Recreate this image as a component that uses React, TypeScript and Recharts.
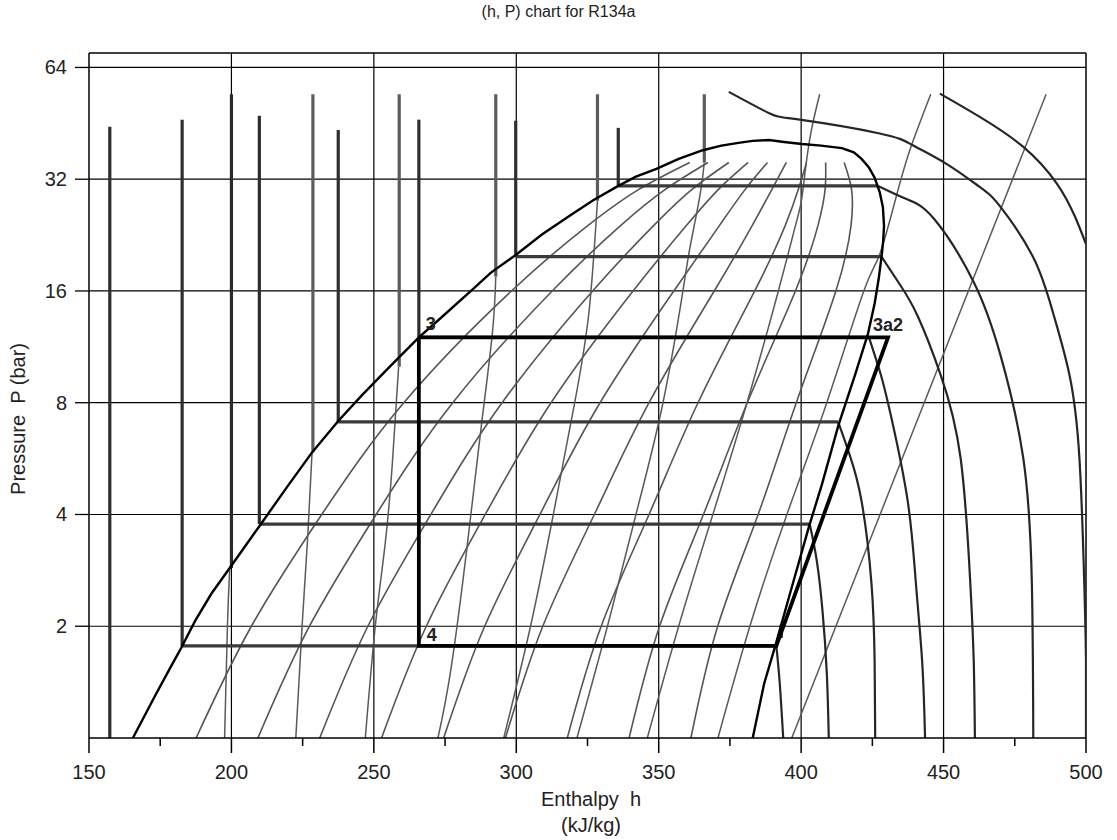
import { LineChart, Line, XAxis, YAxis, ReferenceLine, ReferenceDot } from 'recharts';

type Pt = [number, number]; // [h kJ/kg, P bar]

const H_TICKS = [150, 175, 200, 225, 250, 275, 300, 325, 350, 375, 400, 425, 450, 475, 500];
const P_TICKS = [2, 4, 8, 16, 32, 64];
const H_GRID = [200, 250, 300, 350, 400, 450];
const P_GRID = [2, 4, 8, 16, 32, 64];

// saturation dome: liquid side, round the critical point, down the vapour side
const DOME: Pt[] = [
  [165.4, 1], [173.2, 1.3], [178.6, 1.55], [182.4, 1.75], [187.3, 2.07], [193, 2.45], [199.4, 2.87],
  [209.8, 3.72], [220, 4.8], [228.3, 5.88], [237.5, 7.14], [245.6, 8.35], [255, 9.9], [265.8, 12.0],
  [272.4, 13.3], [284.1, 16], [291, 17.9], [299.8, 20.0], [309, 22.7], [319, 25.6], [327, 28.1],
  [335.8, 30.7], [342, 32.5], [349.2, 34.1], [357, 36.3], [365.5, 38.3], [372, 39.4], [378, 40.1],
  [383, 40.6], [388.7, 40.8], [394, 40.3], [400.3, 39.8], [407, 39.4], [414.3, 38.8], [418.5, 37.8],
  [421.2, 36.3], [423.8, 34.4], [425.8, 32.3], [427.6, 29.5], [428.7, 26.9], [429.1, 24.0],
  [428.8, 21.8], [428.2, 19.7], [427.2, 17.2], [425.8, 14.8], [423.5, 12.3], [418.9, 9.5],
  [413.1, 6.96], [407.3, 4.82], [402.7, 3.7], [395.7, 2.39], [391.1, 1.79], [387, 1.4], [383, 1],
];

// constant quality lines x = 0.1 ... 0.9
const QUALITY_P = [1, 2, 4, 8, 16, 24, 30, 35.5];
const QUALITY_H = [
  [187.6, 207.0, 231.7, 260.5, 298.3, 325.1, 342.9, 360.9],
  [209.3, 227.4, 250.8, 277.7, 312.6, 336.6, 352.2, 367.3],
  [231.0, 247.9, 270.0, 295.0, 326.8, 348.2, 361.6, 374.6],
  [252.7, 268.4, 289.1, 312.2, 341.0, 359.7, 370.9, 381.4],
  [274.5, 288.9, 308.3, 329.4, 355.3, 371.3, 380.3, 388.2],
  [296.2, 309.3, 327.4, 346.6, 369.5, 382.8, 389.7, 394.8],
  [317.9, 329.8, 346.6, 363.8, 383.7, 394.4, 399.0, 401.9],
  [339.6, 350.3, 365.7, 381.1, 398.0, 405.9, 408.4, 408.6],
  [361.3, 370.7, 384.9, 398.3, 412.2, 417.5, 417.7, 415.1],
];

// isentropes, thin part (two-phase / vapour)
const ISENTROPES: Pt[][] = [
  [[197.6, 1], [198.6, 2], [199.4, 2.87]],
  [[222.6, 1], [224.8, 2], [226.8, 3.5], [228.3, 5.88]],
  [[247, 1], [250.5, 2], [254, 3.35], [256.5, 5.5], [258.7, 10.0]],
  [[272.5, 1], [277.1, 1.54], [282.9, 3.36], [287.6, 6.8], [291.6, 12.3], [292.8, 17.5]],
  [[295.6, 1], [305, 2], [313, 4], [320.5, 8], [325.5, 14], [328.5, 28]],
  [[321.3, 1], [332, 2], [342, 4], [351.5, 8], [358.5, 16], [361, 21], [364.5, 29], [366, 35.5]],
  [[346, 1], [357, 2], [369, 4], [381, 8], [392, 16], [398, 24], [400.1, 28], [401.5, 34], [403.5, 43], [406.5, 54.2]],
  [[370.8, 1], [382, 2], [395, 4], [409, 8], [422, 16], [427.5, 20], [433, 28], [438, 38], [445.5, 54.2]],
  [[396.7, 1], [486, 54.2]],
];

// isentropes in the liquid region (thick bars up to the top)
const LIQ_BAR_H = [200, 228.6, 258.9, 292.8, 328.5, 366];
const LIQ_BAR_FROM = [2.87, 5.88, 10.0, 17.5, 28, 35.5];
const LIQ_BAR_TOP = 54.2;

// cycle isobars (= isotherms in the dome) with their liquid-side verticals
const ISOBAR_P = [1.77, 3.77, 7.1, 12.0, 19.8, 30.7];
const ISOBAR_H_LIQ = [182.7, 209.8, 237.5, 265.8, 299.8, 335.8];
const ISOBAR_H_VAP = [391.3, 403.0, 413.0, 423.8, 428.2, 427.0];
const ISOBAR_BAR_TOP = [46.3, 47.4, 43.4, 46.3, 46, 44];
const EXTRA_BAR: Pt[] = [[157.3, 1], [157.3, 44.3]];

// superheated isotherms
const ISOTHERMS: Pt[][] = [
  [[391.3, 1.77], [392.5, 1.4], [393.7, 1]],
  [[403, 3.77], [405.5, 3], [407.5, 2.2], [409, 1.5], [409.7, 1]],
  [[413, 7.1], [417, 5.8], [421.2, 4.35], [424.7, 2.6], [425.8, 1.6], [426, 1]],
  [[423.8, 12], [428, 9.5], [431.6, 7.33], [437.4, 4.35], [440.3, 2.6], [442.5, 1.6], [443.5, 1]],
  [[428.2, 19.8], [435, 16.5], [440.9, 13.7], [449, 9.5], [456, 5.66], [459.4, 2.6], [460.6, 1.6], [461, 1]],
  [[427, 30.7], [437, 28.3], [446.7, 25], [460.6, 16.9], [469.9, 10.8], [478, 5.66], [481, 2.6], [481.5, 1]],
  [[374.6, 55], [389, 48.1], [399.5, 46.3], [427.6, 42.5], [439.2, 39.5], [451, 35.2], [462.7, 30.5],
    [469.9, 27], [481.5, 19.7], [488.4, 14], [494.2, 9.5], [497.7, 5.66], [499.4, 2.6], [500, 1.6], [500, 1]],
  [[448.7, 54.4], [462.7, 47.1], [478, 39.1], [489.7, 31.2], [496, 25.5], [500, 21.4]],
];

// refrigeration cycle 3 -> 4 -> 1 -> 2 -> 3
const CYCLE: Pt[] = [[265.8, 12], [265.8, 1.77], [391.3, 1.77], [430.5, 12], [265.8, 12]];
const MARK_1: Pt[] = [[393, 1.86], [393, 2.02]];

const toData = (pts: Pt[]) => pts.map(([h, P]) => ({ h, P }));

const FONT = '"Liberation Sans", Arial, Helvetica, sans-serif';
const TEXT = '#222';

const XTick = ({ x, y, payload }: any) => {
  const major = payload.value % 50 === 0;
  return (
    <g>
      <line x1={x} x2={x} y1={y} y2={y + (major ? 15 : 8)} stroke="#000" strokeWidth={1.5} />
      {major && (
        <text x={x} y={y + 41} textAnchor="middle" fontSize={20} fill={TEXT} fontFamily={FONT}>
          {payload.value}
        </text>
      )}
    </g>
  );
};

const YTick = ({ x, y, payload }: any) => (
  <g>
    <line x1={x - 14} x2={x} y1={y} y2={y} stroke="#000" strokeWidth={1.3} />
    <text x={x - 22} y={y + 7} textAnchor="end" fontSize={20} fill={TEXT} fontFamily={FONT}>
      {payload.value}
    </text>
  </g>
);

const pointLabel = (text: string, dx: number, dy: number) => (props: any) => (
  <text x={props.cx + dx} y={props.cy + dy} fontSize={18} fontWeight="bold" fill={TEXT} fontFamily={FONT}>
    {text}
  </text>
);

type Series = { key: string; pts: Pt[]; stroke: string; width: number; curve: 'linear' | 'natural' };

export default function App() {
  const series: Series[] = [];

  QUALITY_H.forEach((hs, i) =>
    series.push({ key: `q${i}`, pts: hs.map((h, j) => [h, QUALITY_P[j]] as Pt), stroke: '#555', width: 1.6, curve: 'natural' })
  );
  ISENTROPES.forEach((pts, i) =>
    series.push({ key: `s${i}`, pts, stroke: '#5a5a5a', width: 1.5, curve: 'natural' })
  );
  LIQ_BAR_H.forEach((h, i) =>
    series.push({
      key: `lb${i}`,
      pts: [[h, LIQ_BAR_FROM[i]], [h, LIQ_BAR_TOP]],
      stroke: i === 0 ? '#2a2a2a' : '#5c5c5c',
      width: 3.2,
      curve: 'linear',
    })
  );
  series.push({ key: 'xb', pts: EXTRA_BAR, stroke: '#2e2e2e', width: 3.2, curve: 'linear' });
  ISOBAR_P.forEach((P, i) => {
    series.push({ key: `ib${i}`, pts: [[ISOBAR_H_LIQ[i], P], [ISOBAR_H_LIQ[i], ISOBAR_BAR_TOP[i]]], stroke: '#2e2e2e', width: 3.2, curve: 'linear' });
    series.push({ key: `ip${i}`, pts: [[ISOBAR_H_LIQ[i], P], [ISOBAR_H_VAP[i], P]], stroke: '#3a3a3a', width: 3.2, curve: 'linear' });
  });
  ISOTHERMS.forEach((pts, i) =>
    series.push({ key: `t${i}`, pts, stroke: '#262626', width: 2.2, curve: 'natural' })
  );
  series.push({ key: 'dome', pts: DOME, stroke: '#000', width: 2.4, curve: 'linear' });
  series.push({ key: 'cycle', pts: CYCLE, stroke: '#000', width: 3.8, curve: 'linear' });
  series.push({ key: 'm1', pts: MARK_1, stroke: '#000', width: 3, curve: 'linear' });

  return (
    <div style={{ position: 'absolute', left: 0, top: 0, width: 1117, height: 840, background: '#fff', fontFamily: FONT, color: TEXT }}>
      <div style={{ position: 'absolute', left: 0, top: 3, width: 1117, textAlign: 'center', fontSize: 16, lineHeight: '18px' }}>
        (h, P) chart for R134a
      </div>
      <div
        style={{
          position: 'absolute', left: 18 - 150, top: 419 - 12, width: 300, height: 24, lineHeight: '24px',
          textAlign: 'center', fontSize: 20, transform: 'rotate(-90deg)', whiteSpace: 'pre',
        }}
      >
        {'Pressure  P (bar)'}
      </div>
      <div style={{ position: 'absolute', left: 391, top: 786, width: 400, textAlign: 'center', fontSize: 20, lineHeight: '26px', whiteSpace: 'pre' }}>
        {'Enthalpy  h\n(kJ/kg)'}
      </div>

      <LineChart width={1117} height={840} margin={{ top: 53, right: 31, left: 0, bottom: 42 }}>
        <XAxis
          type="number"
          dataKey="h"
          domain={[150, 500]}
          ticks={H_TICKS}
          interval={0}
          allowDataOverflow
          height={60}
          tickSize={0}
          tickMargin={0}
          tickLine={false}
          tick={<XTick />}
          axisLine={{ stroke: '#000', strokeWidth: 1.5 }}
        />
        <YAxis
          type="number"
          dataKey="P"
          scale="log"
          domain={[1, 70]}
          ticks={P_TICKS}
          interval={0}
          allowDataOverflow
          width={89}
          tickSize={0}
          tickMargin={0}
          tickLine={false}
          tick={<YTick />}
          axisLine={{ stroke: '#000', strokeWidth: 1.5 }}
        />
        {H_GRID.map((h) => (
          <ReferenceLine key={`gx${h}`} x={h} stroke="#000" strokeWidth={1.2} />
        ))}
        {P_GRID.map((p) => (
          <ReferenceLine key={`gy${p}`} y={p} stroke="#000" strokeWidth={1.2} />
        ))}
        <ReferenceLine x={500} stroke="#000" strokeWidth={1.5} />
        <ReferenceLine y={70} stroke="#000" strokeWidth={1.5} />

        {series.map((s) => (
          <Line
            key={s.key}
            data={toData(s.pts)}
            dataKey="P"
            type={s.curve}
            stroke={s.stroke}
            strokeWidth={s.width}
            dot={false}
            activeDot={false}
            isAnimationActive={false}
            legendType="none"
          />
        ))}

        <ReferenceDot x={265.8} y={12} r={0} shape={pointLabel('3', 7, -7)} />
        <ReferenceDot x={265.8} y={1.77} r={0} shape={pointLabel('4', 8, -5)} />
        <ReferenceDot x={423.8} y={12} r={0} shape={pointLabel('3a2', 4, -6)} />
      </LineChart>
    </div>
  );
}
